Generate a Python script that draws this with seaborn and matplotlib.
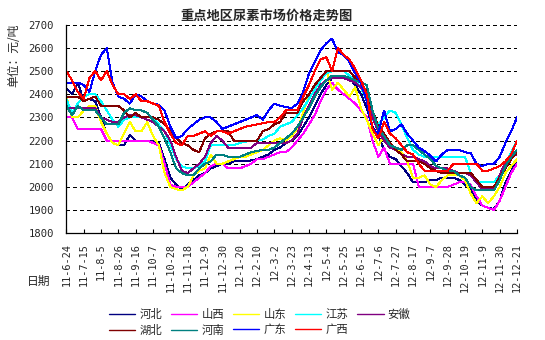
import numpy as np
import pandas as pd
import matplotlib
matplotlib.use("Agg")
import matplotlib.pyplot as plt
from matplotlib.lines import Line2D
import seaborn as sns

# Weekly urea prices (yuan/ton), 2011-06-24 .. 2012-12-21, one value per week
tick_labels = ["11-6-24", "11-7-15", "11-8-5", "11-8-26", "11-9-16", "11-10-7",
               "11-10-28", "11-11-18", "11-12-9", "11-12-30", "12-1-20", "12-2-10",
               "12-3-2", "12-3-23", "12-4-13", "12-5-4", "12-5-25", "12-6-15",
               "12-7-6", "12-7-27", "12-8-17", "12-9-7", "12-9-28", "12-10-19",
               "12-11-9", "12-11-30", "12-12-21"]

hebei = [2425, 2400, 2450, 2370, 2380, 2370, 2300, 2230, 2190, 2180, 2180, 2225, 2200, 2200, 2200, 2200,
         2190, 2120, 2040, 2010, 1990, 2010, 2030, 2050, 2060, 2080, 2090, 2100, 2100, 2110, 2110,
         2110, 2115, 2120, 2130, 2140, 2160, 2170, 2190, 2200, 2220,
         2260, 2300, 2350, 2400, 2440, 2470, 2480, 2480, 2470, 2440, 2400, 2340, 2260, 2220, 2160, 2130,
         2120, 2090, 2060, 2020, 2020, 2020, 2030, 2030, 2040, 2040, 2040, 2030, 2010, 1990, 1940, 1920,
         1910, 1905, 1940, 2020, 2070, 2110]
shanxi = [2300, 2300, 2250, 2250, 2250, 2250, 2250, 2200, 2200, 2200, 2200, 2200, 2200, 2200, 2200, 2190,
          2180, 2100, 2010, 2000, 2000, 2000, 2020, 2040, 2060, 2090, 2100, 2100, 2080, 2080, 2080,
          2090, 2100, 2120, 2120, 2130, 2140, 2150, 2150, 2170, 2200,
          2230, 2270, 2310, 2370, 2420, 2450, 2420, 2400, 2380, 2360, 2330, 2300, 2200, 2130, 2170, 2100,
          2100, 2100, 2100, 2100, 2000, 2000, 2000, 2000, 2000, 2000, 2010, 2020, 2020, 2010, 1960, 1920,
          1910, 1900, 1940, 2000, 2060, 2100]
shandong = [2390, 2300, 2300, 2330, 2350, 2350, 2280, 2230, 2190, 2180, 2230, 2280, 2240, 2240, 2280, 2220,
            2180, 2060, 2000, 1990, 1985, 2000, 2050, 2070, 2080, 2140, 2100, 2100, 2110, 2120, 2130,
            2130, 2140, 2150, 2160, 2180, 2200, 2210, 2200, 2220, 2250,
            2320, 2400, 2440, 2470, 2500, 2420, 2450, 2420, 2390, 2430, 2340, 2290, 2230, 2180, 2220, 2170,
            2160, 2150, 2110, 2040, 2040, 2050, 2010, 2000, 2030, 2050, 2050, 2050, 2030, 1970, 1930, 1960,
            1930, 1960, 2000, 2060, 2090, 2120]
jiangsu = [2380, 2320, 2360, 2390, 2400, 2400, 2370, 2330, 2290, 2260, 2290, 2300, 2300, 2300, 2300, 2300,
           2270, 2240, 2180, 2120, 2090, 2080, 2080, 2090, 2110, 2180, 2180, 2180, 2180, 2180, 2190,
           2195, 2200, 2200, 2205, 2220, 2230, 2260, 2270, 2280, 2310,
           2340, 2380, 2420, 2460, 2490, 2500, 2500, 2500, 2480, 2460, 2430, 2370, 2290, 2270, 2300, 2330,
           2320, 2270, 2210, 2160, 2140, 2130, 2130, 2130, 2130, 2130, 2130, 2130, 2130, 2060, 2020, 2020,
           2020, 2020, 2050, 2100, 2150, 2200]
anhui = [2340, 2340, 2340, 2340, 2340, 2340, 2300, 2290, 2280, 2280, 2300, 2310, 2310, 2300, 2290, 2280,
         2260, 2240, 2200, 2130, 2070, 2060, 2080, 2100, 2130, 2190, 2220, 2200, 2170, 2170, 2170,
         2170, 2170, 2190, 2190, 2190, 2190, 2190, 2190, 2200, 2230,
         2300, 2350, 2400, 2440, 2460, 2470, 2470, 2470, 2460, 2450, 2430, 2390, 2300, 2240, 2200, 2170,
         2160, 2140, 2130, 2130, 2120, 2110, 2090, 2080, 2080, 2080, 2070, 2060, 2060, 2050, 2020, 1990,
         1990, 1990, 2050, 2110, 2130, 2140]
hubei = [2390, 2390, 2390, 2370, 2380, 2390, 2350, 2350, 2350, 2350, 2330, 2300, 2320, 2300, 2300, 2300,
         2290, 2270, 2240, 2210, 2190, 2180, 2160, 2150, 2210, 2230, 2240, 2240, 2240, 2200, 2200,
         2200, 2200, 2200, 2240, 2250, 2270, 2280, 2320, 2320, 2320,
         2370, 2400, 2440, 2470, 2500, 2500, 2500, 2500, 2500, 2470, 2450, 2410, 2330, 2260, 2230, 2190,
         2160, 2140, 2110, 2110, 2110, 2100, 2080, 2070, 2060, 2060, 2060, 2060, 2060, 2060, 2030, 2000,
         2000, 2000, 2040, 2080, 2120, 2150]
henan = [2350, 2310, 2350, 2330, 2330, 2330, 2300, 2270, 2270, 2270, 2320, 2340, 2330, 2330, 2320, 2290,
         2260, 2210, 2150, 2080, 2060, 2050, 2050, 2080, 2100, 2110, 2140, 2140, 2130, 2130, 2130,
         2140, 2150, 2155, 2160, 2160, 2170, 2190, 2210, 2230, 2260,
         2300, 2340, 2390, 2430, 2460, 2480, 2480, 2480, 2470, 2460, 2450, 2440, 2330, 2250, 2220, 2180,
         2170, 2160, 2180, 2180, 2160, 2140, 2120, 2090, 2080, 2070, 2070, 2050, 2040, 2000, 1985, 1985,
         1985, 1985, 2030, 2090, 2130, 2160]
guangdong = [2450, 2450, 2450, 2440, 2410, 2500, 2570, 2600, 2450, 2390, 2380, 2360, 2400, 2390, 2370, 2360,
             2355, 2330, 2260, 2210, 2220, 2250, 2270, 2290, 2300, 2300, 2280, 2250, 2260, 2270, 2280,
             2290, 2300, 2310, 2290, 2330, 2360, 2350, 2345, 2340, 2360,
             2410, 2490, 2540, 2590, 2620, 2640, 2580, 2570, 2540, 2490, 2450, 2370, 2250, 2230, 2330, 2240,
             2250, 2270, 2230, 2200, 2170, 2155, 2135, 2110, 2140, 2160, 2160, 2160, 2150, 2145, 2100, 2090,
             2100, 2100, 2130, 2190, 2240, 2300]
guangxi = [2500, 2460, 2410, 2380, 2470, 2500, 2460, 2500, 2440, 2400, 2400, 2380, 2400, 2370, 2370, 2360,
           2350, 2280, 2230, 2190, 2180, 2220, 2220, 2230, 2240, 2220, 2240, 2240, 2230, 2240, 2250,
           2260, 2265, 2270, 2275, 2280, 2280, 2300, 2330, 2330, 2330,
           2390, 2440, 2500, 2550, 2560, 2500, 2600, 2570, 2550, 2510, 2460, 2400, 2250, 2210, 2280, 2230,
           2210, 2180, 2150, 2140, 2100, 2070, 2070, 2070, 2070, 2070, 2100, 2100, 2100, 2100, 2100, 2070,
           2070, 2080, 2090, 2110, 2140, 2200]

regions = ["河北", "山西", "山东", "江苏", "安徽", "湖北", "河南", "广东", "广西"]
colors = ["#000080", "#FF00FF", "#FFFF00", "#00FFFF", "#800080",
          "#800000", "#008080", "#0000FF", "#FF0000"]
series = [hebei, shanxi, shandong, jiangsu, anhui, hubei, henan, guangdong, guangxi]

weeks = np.arange(len(hebei))
df = pd.DataFrame({
    "week": np.tile(weeks, len(regions)),
    "price": np.concatenate(series),
    "region": np.repeat(regions, len(weeks)),
})

sns.set_theme(style="white")
plt.rcParams["font.family"] = ["Noto Sans CJK SC", "DejaVu Sans"]

fig = plt.figure(figsize=(5.45, 3.40), dpi=100)
ax = fig.add_axes([0.1217, 0.3138, 0.8269, 0.6135])

sns.lineplot(data=df, x="week", y="price", hue="region", hue_order=regions,
             palette=dict(zip(regions, colors)), linewidth=0.72, legend=False,
             sort=False, errorbar=None, ax=ax)
for ln in ax.lines:
    ln.set_antialiased(False)

ax.set_xlim(0, len(weeks) - 1)
ax.set_ylim(1800, 2700)
ax.set_yticks(np.arange(1800, 2701, 100))
ax.set_xticks(np.arange(0, len(weeks), 3))
ax.set_xticklabels(tick_labels, rotation=90, family="DejaVu Sans Mono", fontsize=7.4)
for t in ax.get_yticklabels():
    t.set_family("DejaVu Sans Mono")
    t.set_fontsize(7.6)
ax.set_xlabel("")
ax.set_ylabel("")

for v in np.arange(1900, 2701, 100):
    ax.axhline(v, color="black", lw=0.72, ls=(0, (4, 3)), zorder=0.5, antialiased=False)

sns.despine(ax=ax, top=True, right=True)
for s in ("left", "bottom"):
    ax.spines[s].set_color("black")
    ax.spines[s].set_linewidth(0.9)
ax.tick_params(axis="x", direction="in", length=3, width=0.8, color="black", pad=7, bottom=True)
ax.tick_params(axis="y", length=0, pad=9)

fig.text(267 / 545, 1 - 16 / 340, "重点地区尿素市场价格走势图", ha="center", va="center",
         fontsize=9.5, fontweight="bold")
fig.text(14 / 545, 1 - 55 / 340, "单位：元/吨", rotation=90, ha="center", va="center", fontsize=8.5)
fig.text(39 / 545, 1 - 281 / 340, "日期", ha="center", va="center", fontsize=8.5)

# legend laid out row by row: column-major order for ncol=5
order = [0, 5, 1, 6, 2, 7, 3, 8, 4]
handles = [Line2D([], [], color=colors[i], lw=1.0) for i in order]
labels = [regions[i] for i in order]
fig.legend(handles, labels, ncol=5, loc="center", bbox_to_anchor=(0.476, 0.052),
           frameon=False, fontsize=8.2, handlelength=2.35, handletextpad=0.35,
           columnspacing=0.75, labelspacing=0.4, borderpad=0.2)

fig.savefig("out.png", dpi=100)
